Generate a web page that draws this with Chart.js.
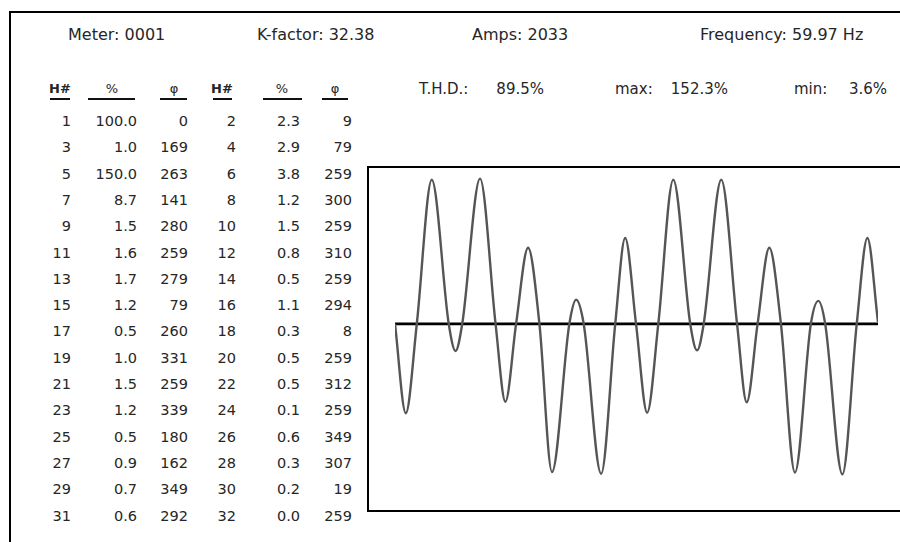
<!DOCTYPE html>
<html>
<head>
<meta charset="utf-8">
<title>Harmonic analysis</title>
<script src="https://cdn.jsdelivr.net/npm/chart.js@4.4.1/dist/chart.umd.min.js"></script>
<style>
  html, body { margin: 0; padding: 0; background: #fff; }
  #page { position: relative; width: 900px; height: 542px; overflow: hidden; background: #fff;
          font-family: "DejaVu Sans", "Liberation Sans", sans-serif; color: #262626; }
  #frame { position: absolute; left: 9px; top: 11px; width: 1000px; height: 1000px;
           border-left: 2px solid #000; border-top: 2px solid #000; }
  #plotBox { position: absolute; left: 367px; top: 166px; width: 700px; height: 346px;
             box-sizing: border-box; border-left: 2px solid #000; border-top: 2px solid #000; border-bottom: 2px solid #000; }
  .t { position: absolute; white-space: nowrap; line-height: 1; }
  .ul { position: absolute; height: 2px; background: #111; }
  #wave { position: absolute; left: 395px; top: 151px; }
</style>
</head>
<body>
<div id="page">
  <div id="frame"></div>
  <div id="plotBox"></div>
  <canvas id="wave" width="483" height="340"></canvas>
</div>
<script>
// Meter readout shown across the top
const meterLabels = ["Meter: 0001", "K-factor: 32.38", "Amps: 2033", "Frequency: 59.97 Hz"];
// Summary line above the waveform
const summaryLabels = ["T.H.D.:", "max:", "min:"];
const summaryValues = ["89.5%", "152.3%", "3.6%"];
// Column headings of the harmonic table
const tableHeads = ["H#", "%", "φ", "H#", "%", "φ"];

// Harmonic spectrum: order, magnitude (% of fundamental), phase (degrees)
const harmonicOrder = [1, 2, 3, 4, 5, 6, 7, 8, 9, 10, 11, 12, 13, 14, 15, 16,
                       17, 18, 19, 20, 21, 22, 23, 24, 25, 26, 27, 28, 29, 30, 31, 32];
const harmonicPct = [100.0, 2.3, 1.0, 2.9, 150.0, 3.8, 8.7, 1.2, 1.5, 1.5, 1.6, 0.8, 1.7, 0.5, 1.2, 1.1,
                     0.5, 0.3, 1.0, 0.5, 1.5, 0.5, 1.2, 0.1, 0.5, 0.6, 0.9, 0.3, 0.7, 0.2, 0.6, 0.0];
const harmonicPhase = [0, 9, 169, 79, 263, 259, 141, 300, 280, 259, 259, 310, 279, 259, 79, 294,
                       260, 8, 331, 259, 259, 312, 339, 259, 180, 349, 162, 307, 349, 19, 292, 259];

// Captured current waveform over two fundamental cycles:
// angle in degrees of the fundamental, amplitude in % of fundamental
const waveAngle = [0, 16.1, 32.5, 54.8, 80.1, 90.3, 100.2, 126.8, 149.9, 164.6, 180.5, 198.4, 215.3, 234.0,
                   259.9, 270.0, 281.3, 307.3, 328.3, 343.1, 359.3,
                   375.9, 392.5, 414.8, 440.1, 450.3, 460.2, 486.4, 509.9, 524.3, 540.5, 558.0, 575.3, 596.2,
                   619.9, 631.1, 641.3, 666.9, 688.3, 704.2, 720];
const waveValue = [0, -155, 0, 250, 0, -47, 0, 252, 0, -135, 0, 132, 0, -257,
                   0, 42, 0, -260, 0, 149, 0,
                   -154, 0, 250, 0, -46, 0, 250, 0, -136, 0, 132, 0, -258,
                   0, 40, 0, -261, 0, 149, 3];
const baselineAngle = [-1.5, 720];
const baselineValue = [0, 0];

const page = document.getElementById('page');
function put(text, x, y, size, align) {
  const el = document.createElement('div');
  el.className = 't';
  el.textContent = text;
  el.style.fontSize = size + 'px';
  el.style.left = x + 'px';
  el.style.top = y + 'px';
  const tx = align === 'right' ? '-100%' : align === 'center' ? '-50%' : '0';
  el.style.transform = 'translate(' + tx + ',-50%)';
  page.appendChild(el);
  return el;
}

// top readout
const meterX = [68, 257, 472, 700];
meterLabels.forEach((s, i) => put(s, meterX[i], 35, 16, 'left'));

// summary line
const sumLabelX = [419, 615, 794];
const sumValueX = [544, 728, 887];
summaryLabels.forEach((s, i) => {
  put(s, sumLabelX[i], 89, 15, 'left');
  put(summaryValues[i], sumValueX[i], 89, 15, 'right');
});

// table headings with underlines
const headCX = [60, 112, 174, 222, 282, 335];
const ulX = [[50, 70], [88, 135], [160, 187], [213, 232], [263, 302], [322, 348]];
tableHeads.forEach((s, i) => {
  const h = put(s, headCX[i], 88, 13, 'center');
  if (s === 'H#') h.style.fontWeight = 'bold';
  const u = document.createElement('div');
  u.className = 'ul';
  u.style.left = ulX[i][0] + 'px';
  u.style.width = (ulX[i][1] - ulX[i][0]) + 'px';
  u.style.top = '98px';
  page.appendChild(u);
});

// table body: odd orders on the left, even orders on the right
const colRight = [71, 137, 188, 236, 300, 352];
for (let r = 0; r < 16; r++) {
  const y = 121 + r * 26.3;
  for (let side = 0; side < 2; side++) {
    const k = r * 2 + side;
    const base = side * 3;
    put(String(harmonicOrder[k]), colRight[base], y, 14.5, 'right');
    put(harmonicPct[k].toFixed(1), colRight[base + 1], y, 14.5, 'right');
    put(String(harmonicPhase[k]), colRight[base + 2], y, 14.5, 'right');
  }
}

// waveform plot
new Chart(document.getElementById('wave'), {
  type: 'line',
  data: {
    datasets: [
      {
        label: 'baseline',
        data: baselineAngle.map((a, i) => ({ x: a, y: baselineValue[i] })),
        borderColor: '#000',
        borderWidth: 2.6,
        pointRadius: 0,
        clip: false,
        order: 2
      },
      {
        label: 'current',
        data: waveAngle.map((a, i) => ({ x: a, y: waveValue[i] })),
        borderColor: '#555',
        borderWidth: 2.4,
        pointRadius: 0,
        cubicInterpolationMode: 'monotone',
        clip: false,
        order: 1
      }
    ]
  },
  options: {
    responsive: false,
    maintainAspectRatio: false,
    animation: false,
    events: [],
    layout: { padding: 0 },
    plugins: { legend: { display: false }, tooltip: { enabled: false }, title: { display: false } },
    scales: {
      x: { type: 'linear', min: 0, max: 720, display: false },
      y: { type: 'linear', min: -290, max: 300, display: false }
    }
  }
});
</script>
</body>
</html>
